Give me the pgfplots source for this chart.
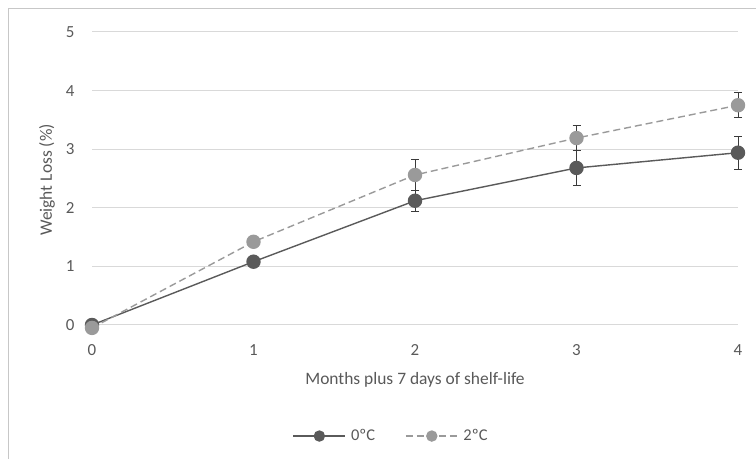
\documentclass[border=0pt]{standalone}
\usepackage{pgfplots}
\pgfplotsset{compat=1.18}
\usepackage{fontspec}
\setmainfont{Carlito}
\definecolor{txt}{HTML}{595959}
\definecolor{gridc}{HTML}{D9D9D9}
\definecolor{sA}{HTML}{5A5A5A}
\definecolor{sB}{HTML}{9A9A9A}
\definecolor{errc}{HTML}{3A3A3A}
\begin{document}
\begin{tikzpicture}[x=1bp,y=1bp]
\useasboundingbox (0,0) rectangle (756,459);
\draw[gridc!80!gray, line width=1bp] (8,0) -- (8,450) -- (756,450);
\begin{axis}[
  at={(92bp,134bp)}, anchor=origin,
  scale only axis, width=646bp, height=293bp,
  xmin=0, xmax=4, ymin=0, ymax=5,
  xtick={0,1,2,3,4}, ytick={0,1,2,3,4,5},
  axis line style={draw=none},
  tick style={draw=none},
  ymajorgrids, grid style={gridc, line width=1bp},
  clip=false,
  font=\fontsize{17.5}{20}\selectfont\color{txt},
  tick label style={font=\fontsize{17}{20}\selectfont\color{txt}},
  /pgf/number format/assume math mode=true,
  xticklabel style={anchor=center, yshift=-25bp},
  yticklabel style={anchor=east, xshift=-14bp},
  xlabel={Months plus 7 days of shelf-life},
  ylabel={Weight Loss (\%)},
  xlabel style={at={(axis description cs:0.5,-0.188)}, anchor=center},
  ylabel style={at={(axis description cs:-0.0697,0.495)}, anchor=center},
  legend style={at={(0.463,-0.379)}, anchor=center, draw=none, fill=none,
    legend columns=2, font=\fontsize{16.5}{19}\selectfont\color{txt},
    /tikz/every odd column/.append style={column sep=3bp},
    /tikz/every even column/.append style={column sep=28bp}},
  legend image code/.code={
    \draw[#1, mark=none] (0bp,0bp) -- (52bp,0bp);
    \draw[#1, solid, mark size=5bp] plot coordinates {(26bp,0bp)};
  },
]
\addplot[sA, line width=1.4bp, mark=*, mark size=6.5bp, mark options={fill=sA, draw=sA},
  error bars/.cd, y dir=both, y explicit,
  error bar style={errc, line width=1bp}, error mark options={errc, rotate=90, mark size=4bp, line width=1bp}]
  coordinates {
  (0,0) +- (0,0.03)
  (1,1.08) +- (0,0.05)
  (2,2.12) +- (0,0.18)
  (3,2.68) +- (0,0.30)
  (4,2.94) +- (0,0.28)
};
\addlegendentry{0ºC}
\addplot[sB, line width=1.4bp, dash pattern=on 7bp off 4bp, mark=*, mark size=6.5bp, mark options={fill=sB, draw=sB, solid},
  error bars/.cd, y dir=both, y explicit,
  error bar style={errc, line width=1bp, solid}, error mark options={errc, rotate=90, mark size=4bp, line width=1bp, solid}]
  coordinates {
  (0,-0.05) +- (0,0.03)
  (1,1.42) +- (0,0.05)
  (2,2.56) +- (0,0.26)
  (3,3.19) +- (0,0.21)
  (4,3.75) +- (0,0.21)
};
\addlegendentry{2ºC}
\end{axis}
\end{tikzpicture}
\end{document}
